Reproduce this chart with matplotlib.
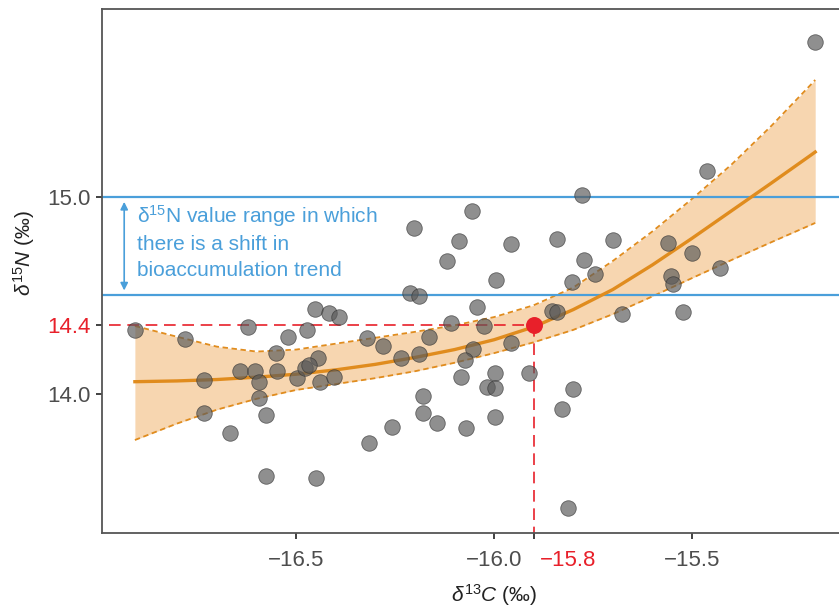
import numpy as np
import matplotlib.pyplot as plt

plt.rcParams['font.family'] = ['Liberation Sans', 'DejaVu Sans']
plt.rcParams['mathtext.fontset'] = 'custom'
plt.rcParams['mathtext.rm'] = 'Liberation Sans'
plt.rcParams['mathtext.it'] = 'Liberation Sans:italic'

# ---------------- Données
d13c = [-16.907, -16.780, -16.621, -16.452, -16.417, -16.391, -16.520, -16.472,
        -16.551, -16.444, -16.732, -16.641, -16.604, -16.593, -16.548, -16.497,
        -16.477, -16.467, -16.439, -16.404, -16.593, -16.732, -16.576, -16.667,
        -16.576, -16.449, -15.778, -16.056, -16.202, -16.088, -15.957, -15.841,
        -16.119, -15.995, -15.773, -15.803, -16.212, -16.189, -16.043, -16.109,
        -16.025, -15.854, -15.841, -16.321, -16.280, -16.164, -16.235, -16.189,
        -16.053, -16.073, -15.957, -16.083, -15.997, -16.018, -15.997, -15.912,
        -16.179, -16.179, -16.144, -16.258, -16.316, -16.071, -15.997, -15.801,
        -15.828, -15.813, -15.189, -15.462, -15.699, -15.561, -15.500, -15.745,
        -15.553, -15.548, -15.429, -15.677, -15.523]
d15n = [14.325, 14.279, 14.340, 14.431, 14.411, 14.391, 14.289, 14.325,
        14.208, 14.183, 14.071, 14.117, 14.117, 14.061, 14.117, 14.081,
        14.132, 14.147, 14.061, 14.086, 13.980, 13.904, 13.893, 13.802,
        13.584, 13.574, 15.010, 14.929, 14.843, 14.777, 14.761, 14.787,
        14.675, 14.579, 14.680, 14.569, 14.513, 14.497, 14.442, 14.360,
        14.345, 14.421, 14.416, 14.284, 14.244, 14.289, 14.183, 14.203,
        14.228, 14.173, 14.259, 14.086, 14.107, 14.036, 14.030, 14.107,
        13.990, 13.904, 13.853, 13.832, 13.751, 13.827, 13.883, 14.025,
        13.924, 13.421, 15.787, 15.132, 14.782, 14.766, 14.716, 14.609,
        14.599, 14.558, 14.640, 14.406, 14.416]

# courbe ajustée et intervalle de confiance
fit_x = [-16.907, -16.8, -16.7, -16.6, -16.5, -16.4, -16.3, -16.2, -16.1, -16.0,
         -15.9, -15.8, -15.7, -15.6, -15.5, -15.4, -15.3, -15.2, -15.189]
fit_y = [14.062, 14.066, 14.073, 14.085, 14.100, 14.122, 14.150, 14.185, 14.225, 14.275,
         14.340, 14.428, 14.530, 14.655, 14.790, 14.930, 15.070, 15.212, 15.228]
ci_hi = [14.345, 14.290, 14.240, 14.215, 14.225, 14.255, 14.285, 14.315, 14.348, 14.390,
         14.450, 14.540, 14.675, 14.825, 14.990, 15.165, 15.360, 15.570, 15.594]
ci_lo = [13.766, 13.850, 13.920, 13.975, 14.020, 14.050, 14.080, 14.115, 14.158, 14.207,
         14.262, 14.325, 14.405, 14.495, 14.588, 14.680, 14.770, 14.858, 14.868]

seuils = [15.0, 14.5]
point_rouge = (-15.9, 14.35)
xticks = [-16.5, -16.0, -15.5]
yticks = [14.0, 15.0]

orange = '#E08C1E'
bleu = '#4A9FDA'
rouge = '#E8202A'
gris = '#4d4d4d'

# ---------------- Figure
fig = plt.figure(figsize=(8.39, 6.12), dpi=100)
ax = fig.add_axes([0.1216, 0.1291, 0.9345, 0.8562])

ax.fill_between(fit_x, ci_lo, ci_hi, color='#F7D6B0', lw=0, zorder=1)
ax.plot(fit_x, ci_hi, color=orange, lw=1.3, ls=(0, (3, 2)), zorder=2)
ax.plot(fit_x, ci_lo, color=orange, lw=1.3, ls=(0, (3, 2)), zorder=2)
ax.plot(fit_x, fit_y, color=orange, lw=2.4, zorder=3)

for s in seuils:
    ax.axhline(s, color=bleu, lw=1.6, zorder=2)

# lignes rouges
ax.plot([-17.5, point_rouge[0]], [point_rouge[1], point_rouge[1]], color=rouge,
        lw=1.2, ls=(0, (7, 4)), zorder=2)
ax.plot([point_rouge[0], point_rouge[0]], [point_rouge[1], 12.0], color=rouge,
        lw=1.2, ls=(0, (7, 4)), zorder=2)

ax.scatter(d13c, d15n, s=125, color='#5a5a5a', alpha=0.68, edgecolors='#333333',
           linewidths=0.6, zorder=4)
ax.scatter([point_rouge[0]], [point_rouge[1]], s=125, color=rouge, zorder=5)

# flèche et texte
ax.annotate('', xy=(-16.934, 14.975), xytext=(-16.934, 14.525),
            arrowprops=dict(arrowstyle='<|-|>', color=bleu, lw=1.2, mutation_scale=11,
                            shrinkA=0, shrinkB=0), zorder=5)
ax.text(-16.901, 14.968, '$\\mathregular{\\delta^{15}}$N value range in which\nthere is a shift in\nbioaccumulation trend',
        color=bleu, fontsize=15, va='top', ha='left', linespacing=1.42, zorder=5)

ax.set_xlim(-16.99, -15.01)
ax.set_ylim(13.294, 15.954)

ax.set_xticks(xticks + [point_rouge[0]])
ax.set_xticklabels(['\u221216.5', '\u221216.0', '\u221215.5', ''])
ax.set_yticks(yticks + [point_rouge[1]])
ax.set_yticklabels(['14.0', '15.0', '14.4'])
ax.tick_params(axis='both', length=4, width=1.3, color='#333333', labelsize=16,
               labelcolor=gris)
ax.tick_params(axis='x', pad=8)
ax.tick_params(axis='y', pad=4)
ax.get_xticklines()[6].set_color(rouge)
ax.get_yticklines()[4].set_color(rouge)
ax.get_yticklabels()[2].set_color(rouge)
ax.annotate('\u221215.8', xy=(-15.813, 0), xycoords=('data', 'axes fraction'),
            xytext=(0, -12), textcoords='offset points', ha='center', va='top',
            color=rouge, fontsize=16)

for sp in ax.spines.values():
    sp.set_color('#555555')
    sp.set_linewidth(1.3)

ax.set_xlabel('$\\mathit{\\delta^{13}C}$ $\\mathit{(‰)}$', fontsize=15, color='#222222')
ax.set_ylabel('$\\mathit{\\delta^{15}N}$ $\\mathit{(‰)}$', fontsize=15, color='#222222')
ax.xaxis.set_label_coords(0.5, -0.094)
ax.yaxis.set_label_coords(-0.083, 0.535)

fig.savefig('out.png', dpi=100)
